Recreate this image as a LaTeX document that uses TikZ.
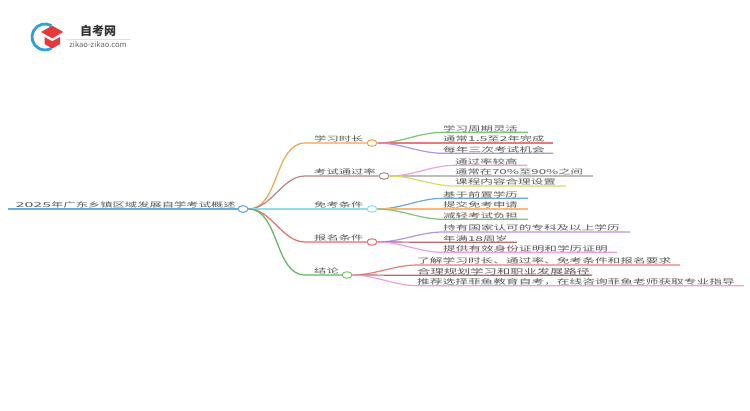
\documentclass[tikz,border=0pt]{standalone}
\usepackage{fontspec}
\usepackage{graphicx}
\setmainfont{Noto Sans CJK SC}
\usetikzlibrary{shapes.geometric}
\definecolor{cRoot}{HTML}{6FA8DC}
\definecolor{cOrange}{HTML}{F9A04D}
\definecolor{cBrown}{HTML}{B08A82}
\definecolor{cCyan}{HTML}{8FE0E6}
\definecolor{cRed}{HTML}{EE6B6B}
\definecolor{cGreen}{HTML}{5CB85C}
\definecolor{cLGreen}{HTML}{7CC576}
\definecolor{cLRed}{HTML}{E87A7A}
\definecolor{cPurple}{HTML}{B892E0}
\definecolor{cPink}{HTML}{F0A0DC}
\definecolor{cGray}{HTML}{BDBDBD}
\definecolor{cYellow}{HTML}{D9D96A}
\definecolor{cBlue}{HTML}{6AA9D8}
\definecolor{cLOrange}{HTML}{F9B97A}
\definecolor{cDRed}{HTML}{B56A6A}
\definecolor{cText}{HTML}{5A5A5A}
\definecolor{cHat}{HTML}{E5383B}
\definecolor{cArc}{HTML}{2FA0DC}
\newcommand{\sq}[2][12.3]{\scalebox{1}[0.55]{\fontsize{#1pt}{12pt}\selectfont #2}}
\newcommand{\dg}[2][1.12]{\scalebox{#1}[1]{#2}}
\tikzset{
  lbl/.style={anchor=south west,inner sep=0pt,text=cText,yshift=-0.5pt},
  dotnode/.style={ellipse,draw=#1,fill=white,line width=1pt,minimum width=10pt,minimum height=6.5pt,inner sep=0pt},
  link/.style={draw=#1,line width=1.2pt},
  curve/.style={link=#1,out=0,in=180,looseness=0.9},
}
\begin{document}
\begin{tikzpicture}[x=1pt,y=-1pt]
\useasboundingbox (0,0) rectangle (750,410);
\fill[white] (0,0) rectangle (750,410);
% logo
\draw[cArc,line width=2.8pt] (51.5,25.7) arc[start angle=60,end angle=300,x radius=13pt,y radius=13pt];
\fill[cHat] (41,32) -- (52.3,25.7) -- (63.3,32) -- (52.3,38.3) -- cycle;
\fill[cHat] (44.5,37) -- (52.3,41.3) -- (60,37) -- (60,44) -- (52.3,48.5) -- (44.5,44) -- cycle;
\node[inner sep=0pt,text=black!80] (brand) at (98,31) {\fontsize{12pt}{12pt}\selectfont\bfseries 自考网};
\draw[black!12,line width=0.6pt] (66,39) -- (131,39);
\node[inner sep=0pt,text=black!60] (site) at (98,45) {\fontsize{7.6pt}{8pt}\selectfont zikao-zikao.com};
% junction dots
\coordinate (r0) at (8,209);
\node[dotnode=cRoot] (root) at (243,209) {};
\node[dotnode=cOrange] (a) at (372,143) {};
\node[dotnode=cBrown] (b) at (384,176) {};
\node[dotnode=cCyan] (c) at (372,209) {};
\node[dotnode=cRed] (d) at (372,242) {};
\node[dotnode=cLGreen] (e) at (347,275) {};
% main links
\coordinate (a0) at (305,143);
\coordinate (b0) at (305,176);
\coordinate (d0) at (305,242);
\coordinate (e0) at (305,275);
\draw[link=cRoot] (r0) -- (root);
\draw[curve=cOrange] (root.east) to (a0) -- (a);
\draw[curve=cBrown] (root.east) to (b0) -- (b);
\draw[link=cCyan] (root) -- (c);
\draw[curve=cRed] (root.east) to (d0) -- (d);
\draw[curve=cGreen] (root.east) to (e0) -- (e);
\node[dotnode=cRoot] at (root) {};
% child link ends
\foreach \n/\xa/\xb/\y in {a1/443/528/132.3,a2/443/553/143,a3/443/553/153.3,
  b1/455/527/165.3,b2/455/593/176,b3/455/566/186,
  c1/443/528/198.3,c2/443/528/209,c3/443/528/219.3,
  d1/443/630/232,d2/443/517/242.3,d3/443/617/252.3,
  e1/417/680/265,e2/417/592/275.3,e3/417/744/285.7}{
  \coordinate (\n s) at (\xa,\y);
  \coordinate (\n t) at (\xb,\y);
}
\foreach \p/\n/\col in {a/a1/cLGreen,a/a2/cLRed,a/a3/cPurple,
  b/b1/cPink,b/b2/cGray,b/b3/cYellow,
  c/c1/cBlue,c/c2/cLOrange,c/c3/cLGreen,
  d/d1/cPurple,d/d2/cDRed,d/d3/cPink,
  e/e1/cLRed,e/e2/cDRed,e/e3/cPink}{
  \draw[curve=\col] (\p.east) to (\n s) -- (\n t);
}
% labels
\node[lbl] (t0) at (15.5,208) {\sq{\dg[1.3]{2025}年广东乡镇区域发展自学考试概述}};
\node[lbl] (ta) at (314,142) {\sq{学习时长}};
\node[lbl] (tb) at (314,175) {\sq{考试通过率}};
\node[lbl] (tc) at (314,208) {\sq{免考条件}};
\node[lbl] (td) at (314,241) {\sq{报名条件}};
\node[lbl] (te) at (314,274) {\sq{结论}};
\node[lbl] (ta1) at (443,131.5) {\sq[12.45]{学习周期灵活}};
\node[lbl] (ta2) at (443,142) {\sq{通常\dg[1.15]{1.5}至\dg[1.15]{2}年完成}};
\node[lbl] (ta3) at (443,152.5) {\sq[12.7]{每年三次考试机会}};
\node[lbl] (tb1) at (455,164.5) {\sq[12.5]{通过率较高}};
\node[lbl] (tb2) at (455,175) {\sq{通常在\dg[1.08]{70\%}至\dg[1.08]{90\%}之间}};
\node[lbl] (tb3) at (455,185.2) {\sq[12.6]{课程内容合理设置}};
\node[lbl] (tc1) at (443,197.5) {\sq[12.45]{基于前置学历}};
\node[lbl] (tc2) at (443,208) {\sq[12.45]{提交免考申请}};
\node[lbl] (tc3) at (443,218.5) {\sq[12.45]{减轻考试负担}};
\node[lbl] (td1) at (443,231.2) {\sq[12.6]{持有国家认可的专科及以上学历}};
\node[lbl] (td2) at (443,241.5) {\sq{年满\dg{18}周岁}};
\node[lbl] (td3) at (443,251.5) {\sq[12.65]{提供有效身份证明和学历证明}};
\node[lbl] (te1) at (417,264.2) {\sq[12.7]{了解学习时长、通过率、免考条件和报名要求}};
\node[lbl] (te2) at (417,274.5) {\sq[13.3]{合理规划学习和职业发展路径}};
\node[lbl] (te3) at (417,285) {\sq[12.7]{推荐选择菲鱼教育自考，在线咨询菲鱼老师获取专业指导}};
\end{tikzpicture}
\end{document}
